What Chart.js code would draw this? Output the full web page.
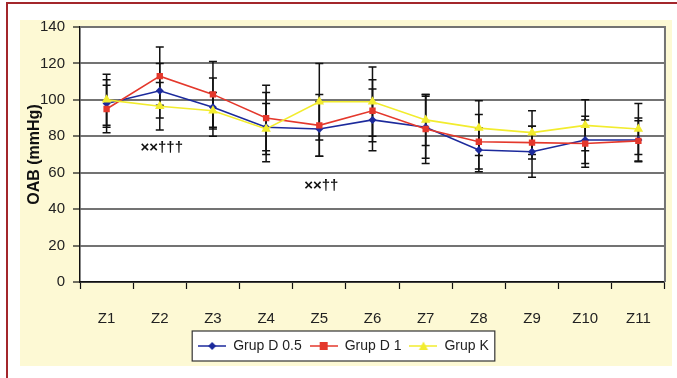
<!DOCTYPE html>
<html>
<head>
<meta charset="utf-8">
<script src="https://cdn.jsdelivr.net/npm/chart.js@4/dist/chart.umd.min.js"></script>
<style>
    html, body { margin: 0; padding: 0; background: #fff; }
    body { width: 677px; height: 378px; position: relative; overflow: hidden; }
    .frame-top { position: absolute; left: 6px; top: 2px; width: 671px; height: 2px; background: #a3262b; }
    .frame-left { position: absolute; left: 6px; top: 2px; width: 2px; height: 376px; background: #a3262b; }
    .bg { position: absolute; left: 20px; top: 20px; width: 652px; height: 346px; background: #fdf9d4; }
    #oabChart { position: absolute; left: 20px; top: 0; }
</style>
</head>
<body>
<div class="frame-top"></div>
<div class="frame-left"></div>
<div class="bg"></div>
<canvas id="oabChart" width="652" height="370"></canvas>
<script>
var labels = ['Z1', 'Z2', 'Z3', 'Z4', 'Z5', 'Z6', 'Z7', 'Z8', 'Z9', 'Z10', 'Z11'];
var grupD05 = [98, 105, 96, 85, 84, 89, 85, 72.5, 71.5, 78, 78];
var grupD05Err = [13, 15, 16, 19, 15, 17, 17, 12, 14, 13, 12];
var grupD1 = [95, 113, 103, 90, 86, 94, 84, 77, 76.5, 76, 77.5];
var grupD1Err = [13, 16, 18, 18, 17, 17, 19, 15, 9, 13, 11];
var grupK = [100, 96.5, 94, 84, 99, 99, 89, 84.5, 82, 86, 84];
var grupKErr = [14, 13, 10, 14, 21, 19, 14, 15, 12, 14, 14];
var notes = [
    { index: 1, value: 73.5, text: '××†††' },
    { index: 4, value: 53, text: '××††' }
];

(function() {
    var FONT = "'Liberation Sans', Arial, sans-serif";
    var textColor = '#222';
    var gridColor = '#737373';

    function legendIcon(color, style) {
        var c = document.createElement('canvas');
        c.width = 28; c.height = 12;
        var ctx = c.getContext('2d');
        ctx.strokeStyle = color;
        ctx.lineWidth = 1.5;
        ctx.beginPath(); ctx.moveTo(0, 6); ctx.lineTo(28, 6); ctx.stroke();
        ctx.fillStyle = color;
        ctx.beginPath();
        if (style === 'diamond') {
            ctx.moveTo(14, 2); ctx.lineTo(18, 6); ctx.lineTo(14, 10); ctx.lineTo(10, 6);
        } else if (style === 'square') {
            ctx.rect(10, 2, 8, 8);
        } else {
            ctx.moveTo(14, 1.5); ctx.lineTo(18.5, 10); ctx.lineTo(9.5, 10);
        }
        ctx.closePath(); ctx.fill();
        return c;
    }

    var series = [
        { label: 'Grup D 0.5', data: grupD05, err: grupD05Err, color: '#1c2a9c', point: 'rectRot', radius: 4, icon: 'diamond' },
        { label: 'Grup D 1', data: grupD1, err: grupD1Err, color: '#e4382c', point: 'rect', radius: 4.5, icon: 'square' },
        { label: 'Grup K', data: grupK, err: grupKErr, color: '#f2ec2e', point: 'triangle', radius: 5.5, icon: 'triangle' }
    ];

    function legendRect(chart) {
        var boxes = chart.legend.legendHitBoxes;
        if (!boxes || !boxes.length) return null;
        var last = boxes[boxes.length - 1];
        return {
            l: boxes[0].left - 6,
            r: last.left + last.width + 6,
            t: boxes[0].top - 8,
            b: boxes[0].top + boxes[0].height + 8
        };
    }

    var errorBars = {
        id: 'errorBars',
        beforeDatasetsDraw: function(chart) {
            var ctx = chart.ctx, xs = chart.scales.x, ys = chart.scales.y;
            ctx.save();
            ctx.strokeStyle = '#111';
            ctx.lineWidth = 1.5;
            series.forEach(function(s) {
                s.data.forEach(function(v, i) {
                    var x = xs.getPixelForValue(i);
                    var yt = ys.getPixelForValue(v + s.err[i]);
                    var yb = ys.getPixelForValue(v - s.err[i]);
                    ctx.beginPath();
                    ctx.moveTo(x, yt); ctx.lineTo(x, yb);
                    ctx.moveTo(x - 4, yt); ctx.lineTo(x + 4, yt);
                    ctx.moveTo(x - 4, yb); ctx.lineTo(x + 4, yb);
                    ctx.stroke();
                });
            });
            ctx.restore();
        }
    };

    var frame = {
        id: 'frame',
        beforeDraw: function(chart) {
            var a = chart.chartArea, ctx = chart.ctx;
            ctx.save();
            ctx.fillStyle = '#fff';
            ctx.fillRect(a.left, a.top, a.right - a.left, a.bottom - a.top);
            var r = legendRect(chart);
            if (r) ctx.fillRect(r.l, r.t, r.r - r.l, r.b - r.t);
            ctx.restore();
        },
        afterDraw: function(chart) {
            var a = chart.chartArea, ctx = chart.ctx;
            ctx.save();
            ctx.strokeStyle = gridColor;
            ctx.lineWidth = 2;
            ctx.beginPath();
            ctx.moveTo(a.left, a.top); ctx.lineTo(a.right, a.top); ctx.lineTo(a.right, a.bottom);
            ctx.stroke();
            var r = legendRect(chart);
            if (r) {
                ctx.strokeStyle = '#333';
                ctx.lineWidth = 1.2;
                ctx.strokeRect(r.l, r.t, r.r - r.l, r.b - r.t);
            }
            ctx.fillStyle = '#111';
            ctx.font = 'bold 15px ' + FONT;
            ctx.textAlign = 'center';
            ctx.textBaseline = 'middle';
            notes.forEach(function(n) {
                ctx.fillText(n.text, chart.scales.x.getPixelForValue(n.index) + 2, chart.scales.y.getPixelForValue(n.value));
            });
            ctx.restore();
        }
    };

    new Chart(document.getElementById('oabChart'), {
        type: 'line',
        data: {
            labels: labels,
            datasets: series.map(function(s, i) {
                return {
                    label: s.label,
                    data: s.data,
                    borderColor: s.color,
                    backgroundColor: s.color,
                    borderWidth: 1.6,
                    pointStyle: s.point,
                    pointRadius: s.radius,
                    pointBorderWidth: 0,
                    tension: 0,
                    order: 2 - i
                };
            })
        },
        options: {
            responsive: false,
            animation: false,
            layout: { padding: { top: 27, right: 5, left: 0, bottom: 7 } },
            plugins: {
                tooltip: { enabled: false },
                legend: {
                    position: 'bottom',
                    labels: {
                        color: textColor,
                        font: { family: FONT, size: 14 },
                        usePointStyle: true,
                        pointStyleWidth: 28,
                        boxHeight: 12,
                        padding: 8,
                        generateLabels: function() {
                            return series.map(function(s, i) {
                                return { text: s.label, pointStyle: legendIcon(s.color, s.icon), datasetIndex: i, fontColor: textColor, lineWidth: 0, strokeStyle: 'transparent', fillStyle: s.color };
                            });
                        }
                    }
                }
            },
            scales: {
                x: {
                    offset: true,
                    grid: { display: true, drawOnChartArea: false, offset: true, tickLength: 7, tickColor: '#111', tickWidth: 1.2 },
                    border: { color: '#111', width: 1.5 },
                    ticks: { color: textColor, font: { family: FONT, size: 15 }, padding: 21 },
                    afterFit: function(scale) { scale.height = 49; }
                },
                y: {
                    min: 0,
                    max: 140,
                    grid: { color: gridColor, lineWidth: 2, tickLength: 7, tickColor: '#111', tickWidth: 1.2 },
                    border: { color: '#111', width: 1.5 },
                    ticks: { stepSize: 20, color: textColor, font: { family: FONT, size: 15 }, padding: 8 },
                    title: { display: true, text: 'OAB (mmHg)', color: '#111', font: { family: FONT, size: 16, weight: 'bold' }, padding: { top: 5, bottom: 0 } },
                    afterFit: function(scale) { scale.width = 60; }
                }
            }
        },
        plugins: [frame, errorBars]
    });
})();
</script>
</body>
</html>
